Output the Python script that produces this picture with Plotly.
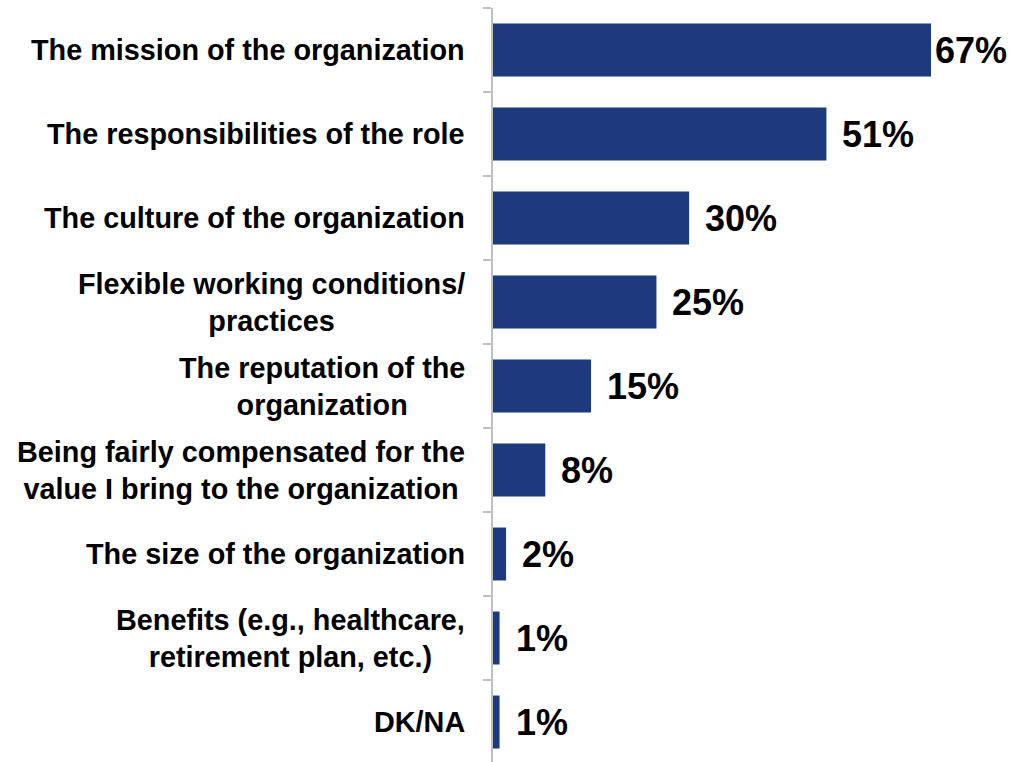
import plotly.graph_objects as go

# Survey items (top to bottom) and share of respondents, in percent
categories = [
    "The mission of the organization",
    "The responsibilities of the role",
    "The culture of the organization",
    "Flexible working conditions/<br>practices",
    "The reputation of the<br>organization",
    "Being fairly compensated for the<br>value I bring to the organization",
    "The size of the organization",
    "Benefits (e.g., healthcare,<br>retirement plan, etc.)",
    "DK/NA",
]
values = [67, 51, 30, 25, 15, 8, 2, 1, 1]
value_labels = ["67%", "51%", "30%", "25%", "15%", "8%", "2%", "1%", "1%"]

BAR_COLOR = "#1C3A7D"
AXIS_GRAY = "#BFBFBF"
FONT = "Arial, Liberation Sans, sans-serif"

positions = list(range(len(categories)))

fig = go.Figure(
    go.Bar(
        x=values,
        y=positions,
        orientation="h",
        width=0.63,
        marker=dict(color=BAR_COLOR, line=dict(width=0)),
        hoverinfo="skip",
    )
)

annotations = []
# Category labels, right-aligned block with centered lines, left of the axis
for pos, label in zip(positions, categories):
    annotations.append(
        dict(
            x=0, xref="paper", y=pos, yref="y",
            text=f"<b>{label}</b>",
            xanchor="right", yanchor="middle", align="center",
            xshift=-26, showarrow=False,
            font=dict(family=FONT, size=28.8, color="#000000"),
        )
    )
# Value labels just past the end of each bar; the longest bar's label
# is tucked in closer so it stays inside the page
top = max(values)
for pos, v, lab in zip(positions, values, value_labels):
    annotations.append(
        dict(
            x=v, xref="x", y=pos, yref="y",
            text=f"<b>{lab}</b>",
            xanchor="left", yanchor="middle",
            xshift=2 if v == top else 14, showarrow=False,
            font=dict(family=FONT, size=36, color="#000000"),
        )
    )

fig.update_layout(
    width=1024,
    height=762,
    margin=dict(l=493, r=8, t=8, b=0),
    paper_bgcolor="white",
    plot_bgcolor="white",
    showlegend=False,
    bargap=0.37,
    xaxis=dict(range=[0, 80], visible=False, fixedrange=True),
    yaxis=dict(
        range=[len(categories) - 0.524, -0.5],
        tickmode="array",
        tickvals=[i - 0.5 for i in range(len(categories) + 1)],
        showticklabels=False,
        ticks="outside",
        ticklen=8,
        tickwidth=1.5,
        tickcolor=AXIS_GRAY,
        showline=True,
        linecolor=AXIS_GRAY,
        linewidth=2,
        showgrid=False,
        zeroline=False,
        fixedrange=True,
    ),
    annotations=annotations,
)

fig.write_html("out.html")
